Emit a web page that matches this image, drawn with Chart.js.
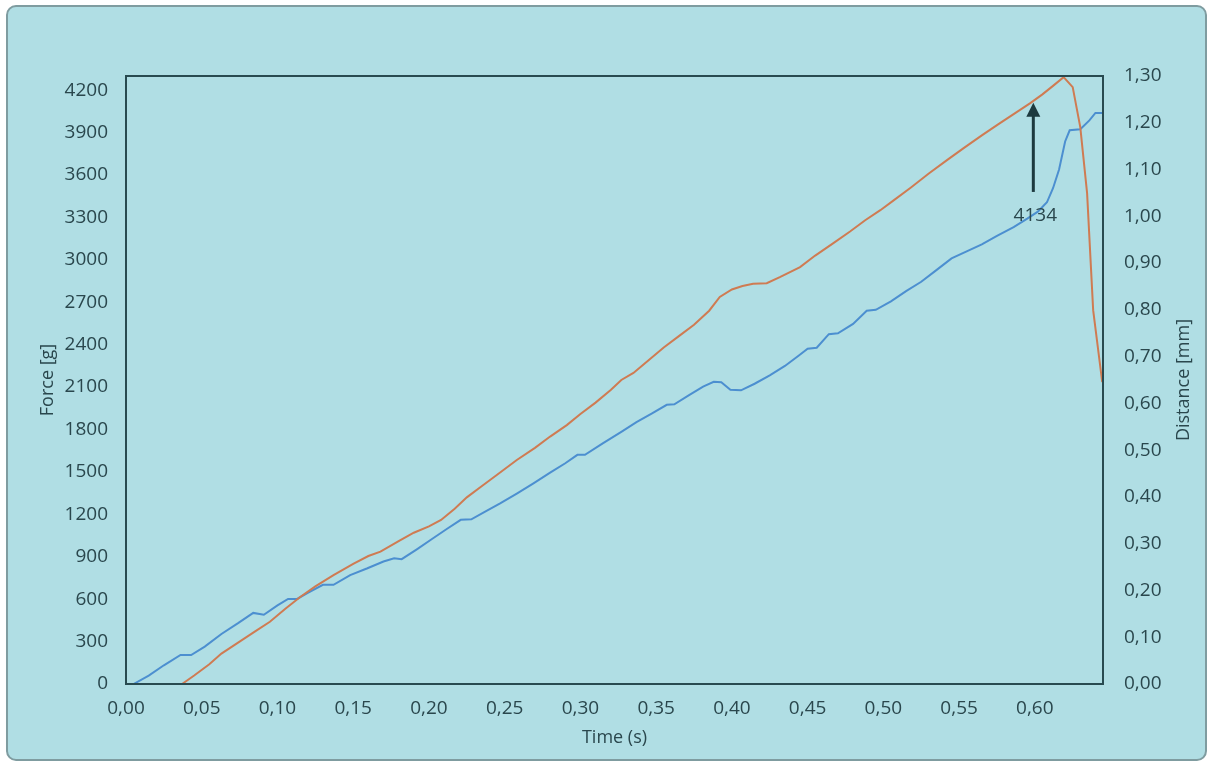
<!DOCTYPE html>
<html>
<head>
<meta charset="utf-8">
<script src="https://cdn.jsdelivr.net/npm/chart.js@4.4.1/dist/chart.umd.min.js"></script>
<style>
  html, body { margin: 0; padding: 0; background: #ffffff; }
  #wrap { width: 1209px; height: 763px; }
</style>
</head>
<body>
<div id="wrap"><canvas id="grafica" width="1209" height="763"></canvas></div>
<script>
// Force curve (orange, left axis)
var forceTime = [0, 0.01, 0.02, 0.03, 0.037, 0.045, 0.055, 0.063, 0.075, 0.085, 0.095, 0.105, 0.115,
  0.125, 0.137, 0.15, 0.16, 0.168, 0.18, 0.19, 0.2, 0.208, 0.217, 0.225, 0.235, 0.245, 0.258,
  0.27, 0.28, 0.291, 0.3, 0.31, 0.32, 0.327, 0.335, 0.345, 0.355, 0.365, 0.375, 0.385, 0.392,
  0.4, 0.407, 0.414, 0.423, 0.432, 0.445, 0.455, 0.467, 0.478, 0.488, 0.498, 0.507, 0.518,
  0.53, 0.542, 0.553, 0.565, 0.576, 0.586, 0.597, 0.605, 0.612, 0.619, 0.625, 0.63, 0.6345,
  0.6385, 0.6445];
var forceValues = [0, 0, 0, 0, 0, 60, 140, 215, 300, 370, 440, 530, 615,
  690, 770, 850, 905, 936, 1010, 1070, 1115, 1160, 1240, 1320, 1400, 1480, 1584,
  1670, 1750, 1831, 1910, 1990, 2080, 2150, 2200, 2290, 2380, 2460, 2540, 2640, 2737,
  2790, 2815, 2830, 2835, 2880, 2949, 3030, 3118, 3200, 3280, 3351, 3422, 3510,
  3610, 3705, 3790, 3880, 3960, 4030, 4108, 4170, 4230, 4292, 4221, 3938, 3472,
  2644, 2135];

// Distance curve (blue, right axis)
var distTime = [0, 0.005, 0.015, 0.025, 0.036, 0.043, 0.052, 0.063, 0.074, 0.084, 0.091, 0.1,
  0.107, 0.113, 0.12, 0.13, 0.137, 0.148, 0.159, 0.17, 0.177, 0.182, 0.192, 0.202, 0.212,
  0.221, 0.228, 0.238, 0.247, 0.258, 0.269, 0.28, 0.29, 0.298, 0.303, 0.315, 0.327, 0.337,
  0.347, 0.357, 0.362, 0.372, 0.381, 0.388, 0.393, 0.399, 0.406, 0.415, 0.425, 0.435, 0.444,
  0.45, 0.456, 0.464, 0.47, 0.48, 0.489, 0.495, 0.505, 0.515, 0.525, 0.535, 0.545, 0.555,
  0.565, 0.575, 0.586, 0.595, 0.602, 0.608, 0.612, 0.616, 0.62, 0.623, 0.63, 0.636, 0.64, 0.645];
var distValues = [0, 0, 0.018, 0.04, 0.062, 0.062, 0.08, 0.107, 0.13, 0.152, 0.148, 0.168,
  0.182, 0.182, 0.195, 0.212, 0.212, 0.233, 0.247, 0.262, 0.269, 0.267, 0.288, 0.31, 0.332,
  0.351, 0.352, 0.37, 0.386, 0.407, 0.429, 0.452, 0.472, 0.49, 0.49, 0.515, 0.539, 0.56,
  0.578, 0.597, 0.598, 0.618, 0.636, 0.646, 0.645, 0.629, 0.628, 0.642, 0.66, 0.68, 0.702,
  0.717, 0.719, 0.748, 0.75, 0.77, 0.798, 0.8, 0.818, 0.84, 0.86, 0.885, 0.91, 0.925,
  0.94, 0.958, 0.977, 0.995, 1.01, 1.03, 1.06, 1.1, 1.16, 1.184, 1.186, 1.205, 1.221, 1.221];

// Tick labels
var timeTicks = [0, 0.05, 0.10, 0.15, 0.20, 0.25, 0.30, 0.35, 0.40, 0.45, 0.50, 0.55, 0.60];
var forceTicks = [0, 300, 600, 900, 1200, 1500, 1800, 2100, 2400, 2700, 3000, 3300, 3600, 3900, 4200];
var distTicks = [0, 0.1, 0.2, 0.3, 0.4, 0.5, 0.6, 0.7, 0.8, 0.9, 1.0, 1.1, 1.2, 1.3];

// Anotacion del pico
var annotX = 0.599;
var annotTip = 4110;
var annotBase = 3480;
var annotTextY = 3310;
var annotText = '4134';

var colorTexto = '#2a474d';
var fuente = '"Open Sans", "Liberation Sans", sans-serif';

function coma(v, dec) {
    return v.toFixed(dec).replace('.', ',');
}

function puntos(xs, ys) {
    return xs.map(function (x, i) { return {x: x, y: ys[i]}; });
}

var fondo = {
    id: 'fondo',
    beforeDraw: function (chart) {
        var ctx = chart.ctx;
        ctx.save();
        ctx.beginPath();
        ctx.roundRect(7, 6, 1199, 754, 9);
        ctx.fillStyle = '#b0dee4';
        ctx.fill();
        ctx.lineWidth = 2;
        ctx.strokeStyle = '#7f9ca0';
        ctx.stroke();
        ctx.restore();
    },
    afterDraw: function (chart) {
        var ctx = chart.ctx;
        var a = chart.chartArea;
        ctx.save();
        // Marco del area de la grafica
        ctx.lineWidth = 2;
        ctx.strokeStyle = '#284a50';
        ctx.strokeRect(a.left, a.top, a.right - a.left, a.bottom - a.top);

        // Flecha y valor del pico
        var sx = chart.scales.x, sy = chart.scales.y;
        var px = sx.getPixelForValue(annotX);
        var tip = sy.getPixelForValue(annotTip);
        var base = sy.getPixelForValue(annotBase);
        ctx.strokeStyle = '#1d3a3f';
        ctx.fillStyle = '#1d3a3f';
        ctx.lineWidth = 3;
        ctx.beginPath();
        ctx.moveTo(px, base);
        ctx.lineTo(px, tip + 12);
        ctx.stroke();
        ctx.beginPath();
        ctx.moveTo(px, tip);
        ctx.lineTo(px - 7, tip + 14);
        ctx.lineTo(px + 7, tip + 14);
        ctx.closePath();
        ctx.fill();
        ctx.font = '19px ' + fuente;
        ctx.textAlign = 'center';
        ctx.textBaseline = 'middle';
        ctx.fillStyle = colorTexto;
        ctx.fillText(annotText, px + 2, sy.getPixelForValue(annotTextY));

        // Titulo del eje derecho (leido de abajo hacia arriba)
        ctx.translate(1184, (a.top + a.bottom) / 2);
        ctx.rotate(-Math.PI / 2);
        ctx.font = '18px ' + fuente;
        ctx.fillText('Distance [mm]', 0, 0);
        ctx.restore();
    }
};

var ctx = document.getElementById('grafica');

window.myLine = new Chart(ctx, {
    type: 'line',
    data: {
        datasets: [{
            label: 'Force [g]',
            data: puntos(forceTime, forceValues),
            yAxisID: 'y',
            borderColor: '#cf7b52',
            borderWidth: 2,
            pointRadius: 0,
            tension: 0
        }, {
            label: 'Distance [mm]',
            data: puntos(distTime, distValues),
            yAxisID: 'y2',
            borderColor: '#4c8fd0',
            borderWidth: 2,
            pointRadius: 0,
            tension: 0
        }]
    },
    options: {
        responsive: false,
        animation: false,
        layout: {padding: {top: 76, left: 0, right: 0, bottom: 0}},
        plugins: {
            legend: {display: false},
            tooltip: {enabled: false}
        },
        scales: {
            x: {
                type: 'linear',
                position: 'bottom',
                min: 0,
                max: 0.645,
                afterBuildTicks: function (s) { s.ticks = timeTicks.map(function (v) { return {value: v}; }); },
                afterFit: function (s) { s.height = 79; },
                grid: {display: false, drawTicks: false},
                border: {display: false},
                ticks: {
                    padding: 13,
                    maxRotation: 0,
                    color: colorTexto,
                    font: {family: fuente, size: 19},
                    callback: function (v) { return coma(v, 2); }
                },
                title: {
                    display: true,
                    text: 'Time (s)',
                    color: colorTexto,
                    font: {family: fuente, size: 18},
                    padding: {top: 0, bottom: 14}
                }
            },
            y: {
                position: 'left',
                min: 0,
                max: 4300,
                afterBuildTicks: function (s) { s.ticks = forceTicks.map(function (v) { return {value: v}; }); },
                afterFit: function (s) { s.width = 126; },
                grid: {display: false, drawTicks: false},
                border: {display: false},
                ticks: {
                    padding: 18,
                    color: colorTexto,
                    font: {family: fuente, size: 19},
                    callback: function (v) { return String(v); }
                },
                title: {
                    display: true,
                    text: 'Force [g]',
                    color: colorTexto,
                    font: {family: fuente, size: 18},
                    padding: {top: 37, bottom: 0}
                }
            },
            y2: {
                position: 'right',
                min: 0,
                max: 1.30,
                afterBuildTicks: function (s) { s.ticks = distTicks.map(function (v) { return {value: v}; }); },
                afterFit: function (s) { s.width = 106; },
                grid: {display: false, drawTicks: false},
                border: {display: false},
                ticks: {
                    padding: 21,
                    color: colorTexto,
                    font: {family: fuente, size: 19},
                    callback: function (v) { return coma(v, 2); }
                }
            }
        }
    },
    plugins: [fondo]
});
</script>
</body>
</html>
